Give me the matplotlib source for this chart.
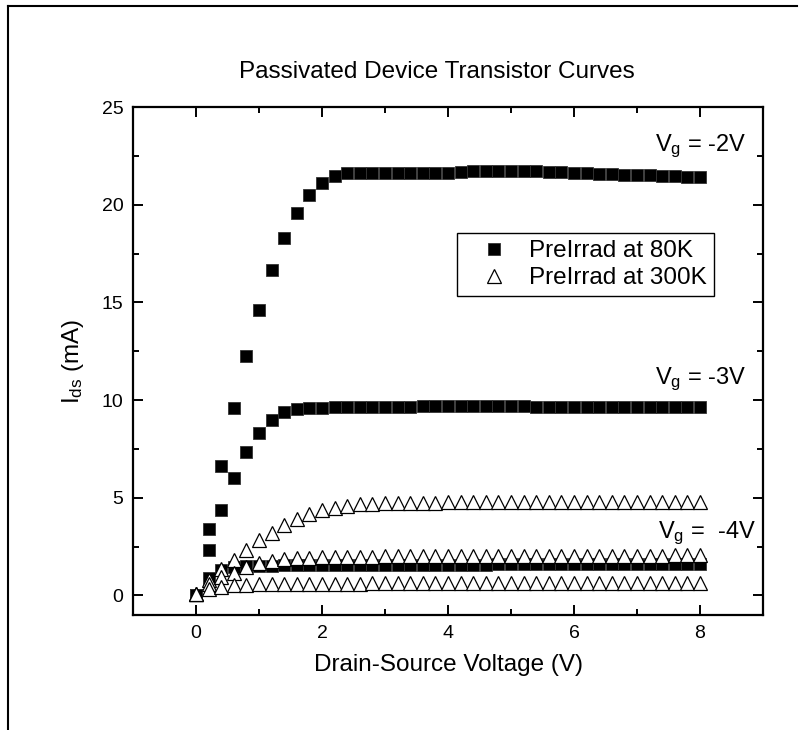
import numpy as np
import matplotlib
matplotlib.use("Agg")
import matplotlib.pyplot as plt
from matplotlib.lines import Line2D
from matplotlib.ticker import MultipleLocator

plt.rcParams["font.family"] = ["Liberation Sans", "DejaVu Sans"]
plt.rcParams["mathtext.default"] = "regular"

# -------------------------------------------------------
# DATA
# -------------------------------------------------------
vds = [0.0, 0.2, 0.4, 0.6, 0.8, 1.0, 1.2, 1.4, 1.6, 1.8,
       2.0, 2.2, 2.4, 2.6, 2.8, 3.0, 3.2, 3.4, 3.6, 3.8,
       4.0, 4.2, 4.4, 4.6, 4.8, 5.0, 5.2, 5.4, 5.6, 5.8,
       6.0, 6.2, 6.4, 6.6, 6.8, 7.0, 7.2, 7.4, 7.6, 7.8,
       8.0]

# PreIrrad at 80K (squares)
ids_80k_vg2 = [0, 3.38, 6.61, 9.6, 12.26, 14.6, 16.65, 18.3, 19.55, 20.48,
               21.1, 21.46, 21.6, 21.63, 21.63, 21.62, 21.6, 21.6, 21.6, 21.6,
               21.63, 21.66, 21.7, 21.7, 21.72, 21.72, 21.7, 21.7, 21.66, 21.65,
               21.63, 21.6, 21.57, 21.55, 21.53, 21.52, 21.5, 21.48, 21.46, 21.44,
               21.4]
ids_80k_vg3 = [0, 2.34, 4.37, 6.03, 7.36, 8.33, 8.98, 9.37, 9.53, 9.58,
               9.62, 9.64, 9.65, 9.66, 9.66, 9.67, 9.67, 9.67, 9.68, 9.68,
               9.68, 9.68, 9.68, 9.68, 9.68, 9.68, 9.68, 9.67, 9.67, 9.67,
               9.67, 9.67, 9.66, 9.66, 9.66, 9.66, 9.65, 9.65, 9.65, 9.65,
               9.65]
ids_80k_vg4 = [0, 0.88, 1.3, 1.45, 1.5, 1.52, 1.53, 1.54, 1.54, 1.55,
               1.55, 1.55, 1.56, 1.56, 1.56, 1.57, 1.57, 1.57, 1.57, 1.58,
               1.58, 1.58, 1.58, 1.58, 1.59, 1.59, 1.59, 1.59, 1.59, 1.6,
               1.6, 1.6, 1.6, 1.6, 1.6, 1.61, 1.61, 1.61, 1.61, 1.62,
               1.62]

# PreIrrad at 300K (open triangles)
ids_300k_vg2 = [0.08, 0.77, 1.35, 1.84, 2.35, 2.82, 3.2, 3.6, 3.92, 4.17,
                4.35, 4.5, 4.6, 4.66, 4.7, 4.72, 4.73, 4.74, 4.75, 4.75,
                4.76, 4.76, 4.76, 4.77, 4.77, 4.77, 4.77, 4.77, 4.77, 4.77,
                4.77, 4.77, 4.77, 4.77, 4.77, 4.77, 4.77, 4.76, 4.76, 4.76,
                4.76]
ids_300k_vg3 = [0.06, 0.6, 0.94, 1.17, 1.45, 1.65, 1.78, 1.88, 1.92, 1.94,
                1.96, 1.97, 1.98, 1.99, 1.99, 2.0, 2.0, 2.0, 2.01, 2.01,
                2.01, 2.01, 2.02, 2.02, 2.02, 2.02, 2.02, 2.03, 2.03, 2.03,
                2.03, 2.03, 2.03, 2.04, 2.04, 2.04, 2.04, 2.04, 2.05, 2.05,
                2.05]
ids_300k_vg4 = [0.05, 0.35, 0.45, 0.51, 0.55, 0.57, 0.58, 0.59, 0.6, 0.6,
                0.6, 0.61, 0.61, 0.61, 0.62, 0.62, 0.62, 0.62, 0.62, 0.63,
                0.63, 0.63, 0.63, 0.63, 0.63, 0.63, 0.63, 0.63, 0.63, 0.63,
                0.63, 0.63, 0.63, 0.64, 0.64, 0.64, 0.64, 0.64, 0.64, 0.64,
                0.64]

vg_labels = ["$V_g$ = -2V", "$V_g$ = -3V", "$V_g$ =  -4V"]
vg_label_pos = [(7.29, 22.75), (7.29, 10.8), (7.33, 2.95)]

# -------------------------------------------------------
# PLOT
# -------------------------------------------------------
fig = plt.figure(figsize=(7.99, 7.30), dpi=100)
ax = fig.add_axes([133 / 799, 115 / 730, 630 / 799, 508 / 730])

sq = dict(marker="s", linestyle="none", ms=8.2, mfc="black", mec="#333333", mew=0.6)
tri = dict(marker="^", linestyle="none", ms=9.5, mfc="white", mec="black", mew=0.9)

ax.plot(vds, ids_80k_vg2, label="PreIrrad at 80K", **sq)
ax.plot(vds, ids_80k_vg3, **sq)
ax.plot(vds, ids_80k_vg4, **sq)
ax.plot(vds, ids_300k_vg2, label="PreIrrad at 300K", **tri)
ax.plot(vds, ids_300k_vg3, **tri)
ax.plot(vds, ids_300k_vg4, **tri)

for txt, (tx, ty) in zip(vg_labels, vg_label_pos):
    ax.text(tx, ty, txt, fontsize=17, ha="left", va="baseline")

ax.set_xlim(-1, 9)
ax.set_ylim(-1, 25)
ax.xaxis.set_major_locator(MultipleLocator(2))
ax.xaxis.set_minor_locator(MultipleLocator(1))
ax.yaxis.set_major_locator(MultipleLocator(5))
ax.yaxis.set_minor_locator(MultipleLocator(2.5))
ax.tick_params(which="both", direction="in", top=True, right=True,
               width=1.4, labelsize=14, pad=7)
ax.tick_params(which="major", length=7.5)
ax.tick_params(which="minor", length=4.5)
for sp in ax.spines.values():
    sp.set_linewidth(1.6)

ax.set_title("Passivated Device Transistor Curves", fontsize=17.5, pad=21, x=0.483)
ax.set_xlabel("Drain-Source Voltage (V)", fontsize=17.5, labelpad=8.5)
ax.set_ylabel("$I_{ds}$ (mA)", fontsize=17.5, labelpad=11)

leg = ax.legend(loc="upper left", bbox_to_anchor=(0.514, 0.752), borderaxespad=0,
                fontsize=17.5, frameon=True, fancybox=False, framealpha=1,
                edgecolor="black", borderpad=0.3, handlelength=2.5,
                handletextpad=0.15, labelspacing=0.2, numpoints=1)
leg.get_frame().set_linewidth(1.0)

# outer page frame (top and left edges visible)
fig.add_artist(Line2D([7.5 / 799, 797 / 799], [1 - 6 / 730, 1 - 6 / 730],
                      transform=fig.transFigure, color="black", lw=1.5))
fig.add_artist(Line2D([7.5 / 799, 7.5 / 799], [0, 1 - 6 / 730],
                      transform=fig.transFigure, color="black", lw=1.5))

fig.savefig("out.png", dpi=100)
